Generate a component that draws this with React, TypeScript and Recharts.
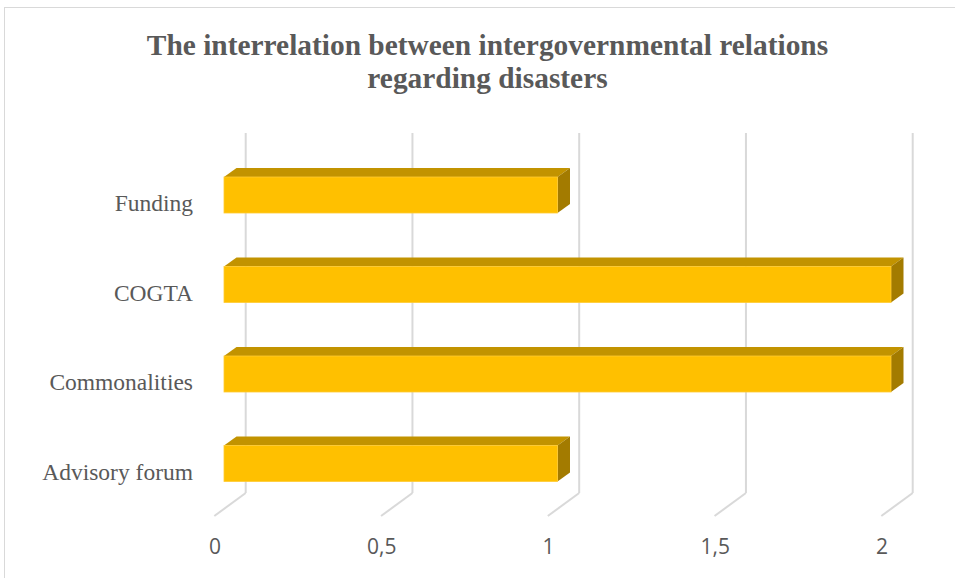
import React from "react";
import { BarChart, Bar, XAxis, YAxis, CartesianGrid } from "recharts";

const categories = ["Funding", "COGTA", "Commonalities", "Advisory forum"];
const values = [1, 2, 2, 1];
const xTicks = [0, 0.5, 1, 1.5, 2];
const xTickLabels = ["0", "0,5", "1", "1,5", "2"];
const titleLines = [
  "The interrelation between intergovernmental relations",
  "regarding disasters",
];

const data = categories.map((name, i) => ({ name, value: values[i] }));

const DX = 12.5;
const DY = 9;
const GRID = "#d9d9d9";
const TEXT = "#595959";

const Bar3D = (props: any) => {
  const { x, y, width, height } = props;
  if (width == null || width <= 0) return null;
  const top = `${x},${y} ${x + DX},${y - DY} ${x + width + DX},${y - DY} ${x + width},${y}`;
  const side = `${x + width},${y} ${x + width + DX},${y - DY} ${x + width + DX},${y + height - DY} ${x + width},${y + height}`;
  return (
    <g>
      <polygon points={top} fill="#C29300" />
      <polygon points={side} fill="#A37B00" />
      <rect x={x} y={y} width={width} height={height} fill="#FFC000" stroke="#FFCB33" strokeWidth={0.8} />
    </g>
  );
};

const GridLine = (props: any) => {
  const { x1, y1, y2 } = props;
  const bx = x1 + 21.7;
  return (
    <g>
      <line x1={bx} y1={y1 - 17} x2={bx} y2={y2 - 15} stroke={GRID} strokeWidth={2} />
      <line x1={bx} y1={y2 - 15} x2={x1 - 9.7} y2={y2 + 8} stroke={GRID} strokeWidth={2} />
    </g>
  );
};

const XTick = (props: any) => {
  const { x, y, payload } = props;
  const idx = xTicks.indexOf(payload.value);
  const label = idx >= 0 ? xTickLabels[idx] : String(payload.value);
  return (
    <text x={x - 9} y={y + 45.5} textAnchor="middle" fill={TEXT} fontFamily="'Open Sans', sans-serif" fontSize={21}>
      {label}
    </text>
  );
};

const YTick = (props: any) => {
  const { x, y, payload } = props;
  return (
    <text x={x} y={y + 16.5} textAnchor="end" fill={TEXT} fontFamily="'Liberation Serif', serif" fontSize={23.5}>
      {payload.value}
    </text>
  );
};

export default function App() {
  return (
    <div style={{ position: "absolute", left: 0, top: 0, width: 955, height: 578, overflow: "hidden", background: "#fff" }}>
      <div style={{ position: "absolute", left: 4, top: 7, width: 1100, height: 1100, border: `1px solid ${GRID}`, boxSizing: "border-box" }} />
      <div
        style={{
          position: "absolute",
          left: 0,
          top: 29,
          width: 975,
          textAlign: "center",
          fontFamily: "'Liberation Serif', serif",
          fontWeight: "bold",
          fontSize: 29.4,
          lineHeight: "33px",
          color: TEXT,
        }}
      >
        {titleLines.map((t) => (
          <div key={t}>{t}</div>
        ))}
      </div>
      <div style={{ position: "absolute", left: 0, top: 0 }}>
        <BarChart
          width={955}
          height={578}
          data={data}
          layout="vertical"
          margin={{ top: 150, right: 64, bottom: 10, left: 0 }}
        >
          <CartesianGrid horizontal={false} vertical={GridLine} />
          <XAxis
            type="number"
            domain={[0, 2]}
            ticks={xTicks}
            axisLine={false}
            tickLine={false}
            tickSize={0}
            tickMargin={0}
            height={60}
            tick={XTick}
            interval={0}
          />
          <YAxis
            type="category"
            dataKey="name"
            width={224}
            axisLine={false}
            tickLine={false}
            tickSize={0}
            tickMargin={31}
            tick={YTick}
            interval={0}
          />
          <Bar dataKey="value" barSize={36} shape={Bar3D} isAnimationActive={false} />
        </BarChart>
      </div>
    </div>
  );
}
